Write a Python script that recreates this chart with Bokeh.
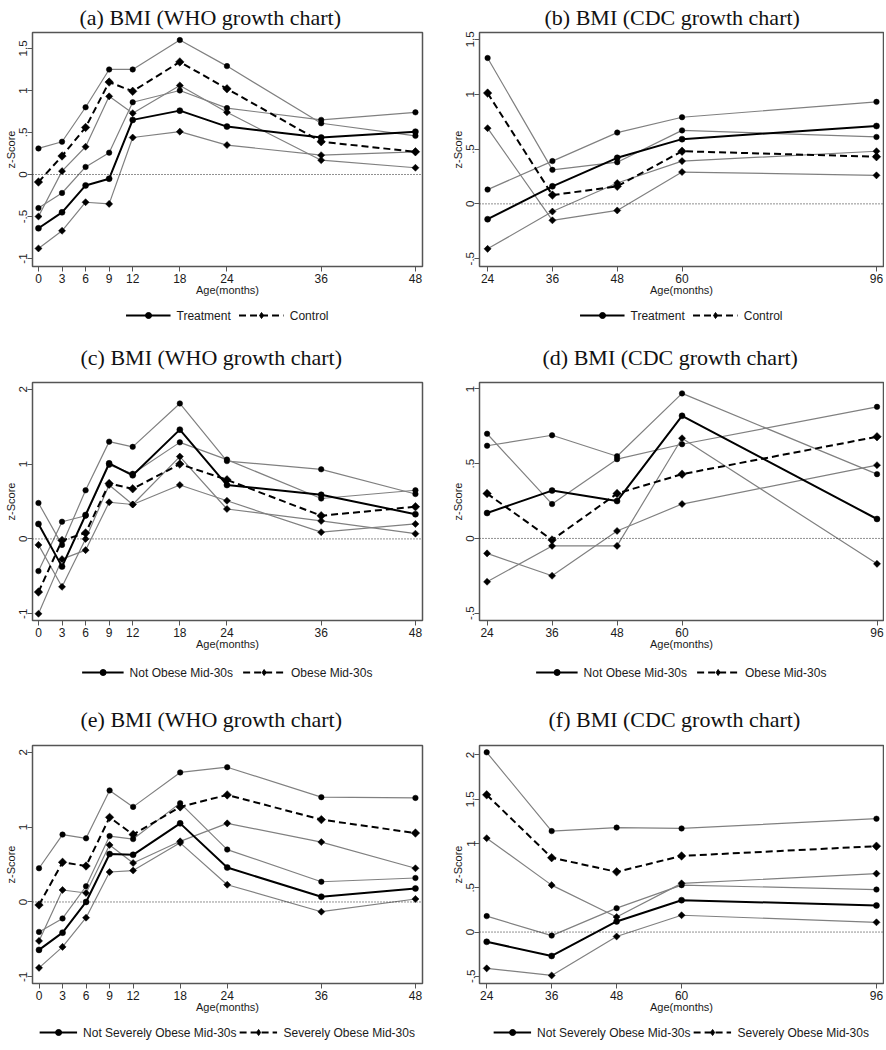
import math
from bokeh.plotting import figure
from bokeh.models import ColumnDataSource, FixedTicker, Span, Legend, LegendItem, Range1d
from bokeh.layouts import gridplot
from bokeh.embed import file_html
from bokeh.resources import INLINE

# ---------------- data ----------------
ages_who = [0, 3, 6, 9, 12, 18, 24, 36, 48]
ages_cdc = [24, 36, 48, 60, 96]

# (a) WHO, treatment vs control
a_treat    = [-0.64, -0.45, -0.13, -0.05, 0.65, 0.76, 0.57, 0.44, 0.51]
a_treat_hi = [-0.40, -0.22, 0.09, 0.26, 0.86, 1.00, 0.79, 0.65, 0.74]
a_treat_lo = [-0.88, -0.67, -0.33, -0.35, 0.44, 0.51, 0.35, 0.23, 0.27]
a_ctrl     = [-0.09, 0.22, 0.56, 1.10, 0.99, 1.34, 1.02, 0.39, 0.27]
a_ctrl_hi  = [0.31, 0.39, 0.80, 1.25, 1.25, 1.60, 1.29, 0.61, 0.46]
a_ctrl_lo  = [-0.50, 0.04, 0.33, 0.93, 0.73, 1.06, 0.74, 0.17, 0.08]

# (b) CDC, treatment vs control
b_treat    = [-0.14, 0.16, 0.42, 0.59, 0.71]
b_treat_hi = [0.13, 0.39, 0.65, 0.79, 0.93]
b_treat_lo = [-0.41, -0.07, 0.19, 0.39, 0.48]
b_ctrl     = [1.01, 0.08, 0.16, 0.48, 0.43]
b_ctrl_hi  = [1.33, 0.31, 0.38, 0.67, 0.61]
b_ctrl_lo  = [0.69, -0.15, -0.06, 0.29, 0.26]

# (c) WHO, not obese vs obese mid-30s
c_notob    = [0.20, -0.37, 0.32, 1.01, 0.85, 1.46, 0.72, 0.59, 0.33]
c_notob_hi = [0.48, -0.08, 0.65, 1.30, 1.23, 1.81, 1.04, 0.93, 0.60]
c_notob_lo = [-0.08, -0.64, 0.00, 0.72, 0.46, 1.10, 0.40, 0.24, 0.07]
c_ob       = [-0.71, -0.02, 0.08, 0.74, 0.67, 1.00, 0.79, 0.31, 0.43]
c_ob_hi    = [-0.43, 0.23, 0.31, 0.99, 0.87, 1.29, 1.06, 0.54, 0.65]
c_ob_lo    = [-1.00, -0.27, -0.15, 0.49, 0.46, 0.72, 0.51, 0.09, 0.20]

# (d) CDC, not obese vs obese mid-30s
d_notob    = [0.17, 0.32, 0.25, 0.82, 0.13]
d_notob_hi = [0.62, 0.69, 0.55, 0.97, 0.43]
d_notob_lo = [-0.29, -0.05, -0.05, 0.67, -0.17]
d_ob       = [0.30, -0.01, 0.30, 0.43, 0.68]
d_ob_hi    = [0.70, 0.23, 0.53, 0.63, 0.88]
d_ob_lo    = [-0.10, -0.25, 0.05, 0.23, 0.49]

# (e) WHO, not severely obese vs severely obese mid-30s
e_nso    = [-0.64, -0.41, 0.00, 0.64, 0.63, 1.05, 0.46, 0.07, 0.18]
e_nso_hi = [-0.40, -0.22, 0.21, 0.88, 0.84, 1.32, 0.70, 0.27, 0.32]
e_nso_lo = [-0.88, -0.60, -0.21, 0.40, 0.42, 0.79, 0.23, -0.13, 0.04]
e_so     = [-0.04, 0.53, 0.48, 1.13, 0.90, 1.27, 1.43, 1.10, 0.92]
e_so_hi  = [0.45, 0.90, 0.85, 1.49, 1.27, 1.73, 1.80, 1.40, 1.39]
e_so_lo  = [-0.52, 0.16, 0.12, 0.76, 0.52, 0.81, 1.05, 0.80, 0.45]

# (f) CDC, not severely obese vs severely obese mid-30s
f_nso    = [-0.11, -0.27, 0.12, 0.36, 0.30]
f_nso_hi = [0.18, -0.04, 0.27, 0.53, 0.48]
f_nso_lo = [-0.41, -0.49, -0.05, 0.19, 0.11]
f_so     = [1.55, 0.84, 0.68, 0.86, 0.97]
f_so_hi  = [2.03, 1.14, 1.18, 1.17, 1.28]
f_so_lo  = [1.06, 0.53, 0.17, 0.55, 0.66]

# tick labels
yticks_a = [-1, -0.5, 0, 0.5, 1, 1.5]
ylabels_a = ["-1", "-.5", "0", ".5", "1", "1.5"]
yticks_b = [-0.5, 0, 0.5, 1, 1.5]
ylabels_b = ["-.5", "0", ".5", "1", "1.5"]
yticks_c = [-1, 0, 1, 2]
ylabels_c = ["-1", "0", "1", "2"]
yticks_d = [-0.5, 0, 0.5, 1]
ylabels_d = ["-.5", "0", ".5", "1"]
yticks_f = [-0.5, 0, 0.5, 1, 1.5, 2]
ylabels_f = ["-.5", "0", ".5", "1", "1.5", "2"]

titles = ["(a) BMI (WHO growth chart)", "(b) BMI (CDC growth chart)",
          "(c) BMI (WHO growth chart)", "(d) BMI (CDC growth chart)",
          "(e) BMI (WHO growth chart)", "(f) BMI (CDC growth chart)"]
legend_ab = ["Treatment", "Control"]
legend_cd = ["Not Obese Mid-30s", "Obese Mid-30s"]
legend_ef = ["Not Severely Obese Mid-30s", "Severely Obese Mid-30s"]

# ---------------- style ----------------
SANS = "Liberation Sans"
SERIF = "Liberation Serif"
GRAY = "#808080"
FRAME = "#555555"
TXT = "#1a1a1a"


def add_marker(p, src, col, kind, big=False):
    if kind == "circle":
        return p.scatter("x", col, source=src, marker="circle", size=6 if big else 5.5,
                         fill_color="black", line_color="black", line_width=0.5)
    return p.scatter("x", col, source=src, marker="square", angle=math.pi / 4,
                     size=6 if big else 5, fill_color="black", line_color="black", line_width=0.5)


def panel(title, ages, s1, s2, names, yticks, ylabels, xr, yr, geom, leg_h, title_off,
          title_standoff, glyph_w, spacing):
    W, H, bl, br, bt, bb = geom
    src = ColumnDataSource(dict(x=ages, m1=s1[0], h1=s1[1], l1=s1[2],
                                m2=s2[0], h2=s2[1], l2=s2[2]))
    p = figure(width=W, height=H, output_backend="svg", toolbar_location=None,
               x_range=Range1d(*xr), y_range=Range1d(*yr),
               min_border_left=bl, min_border_right=br, min_border_top=bt, min_border_bottom=bb,
               x_axis_label="Age(months)", y_axis_label="z-Score")
    p.grid.visible = False
    p.outline_line_color = FRAME
    p.outline_line_width = 1.5
    p.background_fill_color = "white"
    p.border_fill_color = "white"

    p.add_layout(Span(location=0, dimension="width", line_color="#222222",
                      line_dash="1 2", line_width=1))

    # confidence bands: upper with circles, lower with diamonds
    for col, mk in (("h1", "circle"), ("l1", "diamond"), ("h2", "circle"), ("l2", "diamond")):
        p.line("x", col, source=src, line_color=GRAY, line_width=1.2)
        add_marker(p, src, col, mk)

    p.line("x", "m1", source=src, line_color="black", line_width=2)
    add_marker(p, src, "m1", "circle", big=True)
    p.line("x", "m2", source=src, line_color="black", line_width=2, line_dash="7 4")
    add_marker(p, src, "m2", "diamond", big=True)

    xa = p.xaxis[0]
    xa.ticker = FixedTicker(ticks=ages)
    xa.axis_line_color = None
    xa.major_tick_line_color = FRAME
    xa.major_tick_out = 5
    xa.major_tick_in = 0
    xa.minor_tick_line_color = None
    xa.major_label_text_font = SANS
    xa.major_label_text_font_size = "12px"
    xa.major_label_text_color = TXT
    xa.major_label_standoff = 2
    xa.axis_label_text_font = SANS
    xa.axis_label_text_font_size = "11px"
    xa.axis_label_text_font_style = "normal"
    xa.axis_label_text_color = TXT
    xa.axis_label_standoff = -2

    ya = p.yaxis[0]
    ya.ticker = FixedTicker(ticks=yticks)
    ya.major_label_overrides = {float(t): s for t, s in zip(yticks, ylabels)}
    ya.major_label_orientation = "vertical"
    ya.axis_line_color = None
    ya.major_tick_line_color = FRAME
    ya.major_tick_out = 5
    ya.major_tick_in = 0
    ya.minor_tick_line_color = None
    ya.major_label_text_font = SANS
    ya.major_label_text_font_size = "11.5px"
    ya.major_label_text_color = TXT
    ya.major_label_standoff = 0
    ya.axis_label_text_font = SANS
    ya.axis_label_text_font_size = "11px"
    ya.axis_label_text_font_style = "normal"
    ya.axis_label_text_color = TXT
    ya.axis_label_standoff = 0

    p.title.text = title
    p.title.text_font = SERIF
    p.title.text_font_size = "22px"
    p.title.text_font_style = "normal"
    p.title.text_color = "#111111"
    p.title.align = "left"
    p.title.offset = title_off
    p.title.standoff = title_standoff

    # legend strip below the panel (separate small figure sharing the panel's frame span)
    lp = figure(width=W, height=leg_h, output_backend="svg", toolbar_location=None,
                x_range=Range1d(0, 1), y_range=Range1d(0, 1),
                x_axis_location=None, y_axis_location=None,
                min_border_left=bl, min_border_right=br, min_border_top=0, min_border_bottom=0)
    lp.grid.visible = False
    lp.outline_line_color = None
    lp.background_fill_color = "white"
    lp.border_fill_color = "white"
    r1 = lp.line("x", "m1", source=src, line_color="black", line_width=2, visible=False)
    k1 = lp.scatter("x", "m1", source=src, marker="circle", fill_color="black",
                    line_color="black", visible=False)
    r2 = lp.line("x", "m2", source=src, line_color="black", line_width=2, line_dash="7 4",
                 visible=False)
    k2 = lp.scatter("x", "m2", source=src, marker="diamond", fill_color="black",
                    line_color="black", visible=False)
    leg = Legend(items=[LegendItem(label=names[0], renderers=[r1, k1]),
                        LegendItem(label=names[1], renderers=[r2, k2])],
                 orientation="horizontal", location="center",
                 glyph_width=glyph_w, glyph_height=15, label_height=15,
                 label_standoff=6, spacing=spacing, padding=0, margin=0,
                 border_line_color=None, background_fill_alpha=0,
                 label_text_font=SANS, label_text_font_size="12px", label_text_color=TXT)
    lp.add_layout(leg)
    return p, lp


pa, la = panel(titles[0], ages_who, (a_treat, a_treat_hi, a_treat_lo), (a_ctrl, a_ctrl_hi, a_ctrl_lo),
               legend_ab, yticks_a, ylabels_a, (-0.76, 48.9), (-1.095, 1.69),
               (443, 300, 32, 20, 32, 34), 30, 47, 5, 45, 8)
pb, lb = panel(titles[1], ages_cdc, (b_treat, b_treat_hi, b_treat_lo), (b_ctrl, b_ctrl_hi, b_ctrl_lo),
               legend_ab, yticks_b, ylabels_b, (22.5, 97.3), (-0.571, 1.5625),
               (441, 300, 35, 1, 32, 29), 30, 65, 5, 45, 8)
pc, lc = panel(titles[2], ages_who, (c_notob, c_notob_hi, c_notob_lo), (c_ob, c_ob_hi, c_ob_lo),
               legend_cd, yticks_c, ylabels_c, (-0.76, 48.9), (-1.09, 2.09),
               (443, 324, 32, 20, 52, 34), 36, 48, 25, 42, 10)
pd_, ld = panel(titles[3], ages_cdc, (d_notob, d_notob_hi, d_notob_lo), (d_ob, d_ob_hi, d_ob_lo),
                legend_cd, yticks_d, ylabels_d, (22.6, 97.2), (-0.549, 1.043),
                (441, 324, 36, 1, 52, 24), 36, 63, 25, 42, 10)
pe, le = panel(titles[4], ages_who, (e_nso, e_nso_hi, e_nso_lo), (e_so, e_so_hi, e_so_lo),
               legend_ef, yticks_c, ylabels_c, (-0.83, 48.9), (-1.089, 2.09),
               (443, 326, 28, 21, 55, 33), 32, 48, 28, 38, 3)
pf, lf = panel(titles[5], ages_cdc, (f_nso, f_nso_hi, f_nso_lo), (f_so, f_so_hi, f_so_lo),
               legend_ef, yticks_f, ylabels_f, (22.67, 97.3), (-0.581, 2.107),
               (441, 326, 33, 1, 55, 23), 32, 69, 28, 38, 3)

layout = gridplot([[pa, pb], [la, lb], [pc, pd_], [lc, ld], [pe, pf], [le, lf]],
                  toolbar_location=None)

with open("out.html", "w") as fh:
    fh.write(file_html(layout, INLINE))
